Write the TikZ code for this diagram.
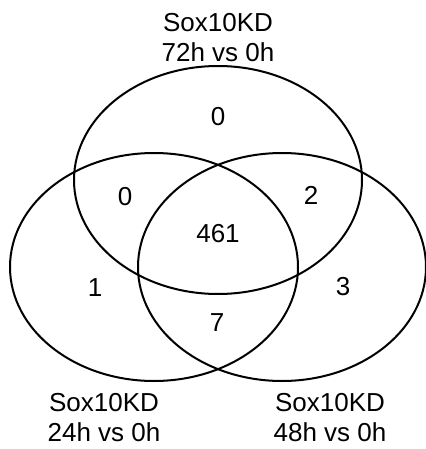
\documentclass[tikz,border=0pt]{standalone}
\usepackage{fontspec}
\setmainfont{Liberation Sans}
\tikzstyle{set}=[draw=black,line width=2pt]
\tikzstyle{count}=[inner sep=0pt,font=\fontsize{26}{30}\selectfont]
\tikzstyle{setname}=[inner sep=0pt,align=center,font=\fontsize{26}{30}\selectfont]
\begin{document}
\begin{tikzpicture}[x=1pt,y=-1pt]
			\useasboundingbox (0,0) rectangle (425,449);
			% the three sets
			\draw [set] (218,180) ellipse [x radius=144,y radius=114];
			\draw [set] (154,267) ellipse [x radius=144,y radius=114];
			\draw [set] (282,267) ellipse [x radius=144,y radius=114];
			% set names
			\node (h72) at (218,37.5) [setname] {Sox10KD\\72h vs 0h};
			\node (h24) at (104,418) [setname] {Sox10KD\\24h vs 0h};
			\node (h48) at (330,418) [setname] {Sox10KD\\48h vs 0h};
			% counts
			\node (only72) at (218,117) [count] {0};
			\node (and24) at (125,197) [count] {0};
			\node (and48) at (311,195) [count] {2};
			\node (all) at (218,234) [count] {461};
			\node (only24) at (95,288) [count] {1};
			\node (only48) at (343,287) [count] {3};
			\node (both) at (217,323) [count] {7};
		\end{tikzpicture}
\end{document}
